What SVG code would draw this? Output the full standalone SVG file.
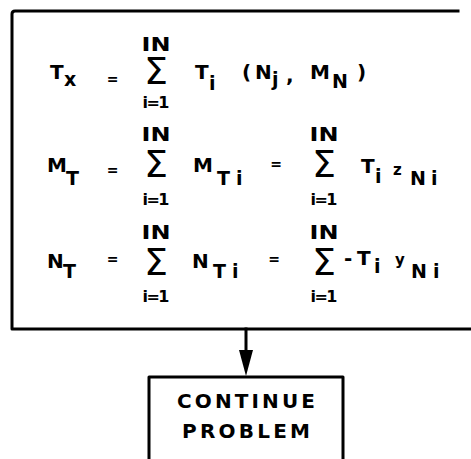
<svg xmlns="http://www.w3.org/2000/svg" width="471" height="459" viewBox="0 0 471 459">
<style>
  text { font-family: "DejaVu Sans", "Liberation Sans", sans-serif; font-weight: bold; fill: #000; }
  .m { font-size: 20px; }
  .s { font-size: 19px; }
  .sm { font-size: 15px; }
  .eq { font-size: 14px; text-anchor: middle; }
  .lim { font-size: 19px; text-anchor: middle; }
  .sig { font-size: 38px; font-weight: normal; text-anchor: middle; }
  .low { font-size: 16px; text-anchor: middle; }
  .lbl { font-size: 20px; text-anchor: middle; }
  .line { fill: none; stroke: #000; stroke-width: 3; stroke-linejoin: round; stroke-linecap: square; }
</style>

<g id="formula-box">
  <path class="line" d="M458,11 H15 Q12,11 12,14 V329 H471"/>
  <!-- row 1 -->
  <text class="m" x="50" y="79">T</text>
  <text class="s" x="64" y="86">x</text>
  <text class="eq" x="112.5" y="84">=</text>
  <text class="lim" x="156" y="51" textLength="29" lengthAdjust="spacingAndGlyphs">IN</text>
  <text class="sig" x="156" y="84">Σ</text>
  <text class="low" x="156" y="108" textLength="27">i=1</text>
  <text class="m" x="195" y="79">T</text>
  <text class="s" x="209" y="90">i</text>
  <text class="m" x="242" y="79">(</text>
  <text class="m" x="255" y="79">N</text>
  <text class="s" x="272" y="86">j</text>
  <text class="m" x="286" y="82">,</text>
  <text class="m" x="310" y="79">M</text>
  <text class="s" x="332" y="88">N</text>
  <text class="m" x="357" y="79">)</text>
  <!-- row 2 -->
  <text class="m" x="47" y="172">M</text>
  <text class="s" x="66" y="185">T</text>
  <text class="eq" x="112.5" y="175">=</text>
  <text class="lim" x="156" y="141" textLength="29" lengthAdjust="spacingAndGlyphs">IN</text>
  <text class="sig" x="156" y="177">Σ</text>
  <text class="low" x="156" y="205" textLength="27">i=1</text>
  <text class="m" x="193" y="172">M</text>
  <text class="s" x="217" y="185">T</text>
  <text class="s" x="236" y="185">i</text>
  <text class="eq" x="276" y="169">=</text>
  <text class="lim" x="324" y="141" textLength="29" lengthAdjust="spacingAndGlyphs">IN</text>
  <text class="sig" x="324" y="177">Σ</text>
  <text class="low" x="324" y="205" textLength="27">i=1</text>
  <text class="m" x="361" y="173">T</text>
  <text class="s" x="375" y="183">i</text>
  <text class="sm" x="393" y="175">z</text>
  <text class="s" x="410" y="185">N</text>
  <text class="s" x="431" y="185">i</text>
  <!-- row 3 -->
  <text class="m" x="47" y="268">N</text>
  <text class="s" x="63" y="278">T</text>
  <text class="eq" x="112.5" y="264">=</text>
  <text class="lim" x="156" y="239" textLength="29" lengthAdjust="spacingAndGlyphs">IN</text>
  <text class="sig" x="156" y="275">Σ</text>
  <text class="low" x="156" y="302" textLength="27">i=1</text>
  <text class="m" x="192" y="268">N</text>
  <text class="s" x="213" y="278">T</text>
  <text class="s" x="232" y="278">i</text>
  <text class="eq" x="274" y="264">=</text>
  <text class="lim" x="324" y="239" textLength="29" lengthAdjust="spacingAndGlyphs">IN</text>
  <text class="sig" x="324" y="275">Σ</text>
  <text class="low" x="324" y="302" textLength="27">i=1</text>
  <text class="m" x="344" y="265">-</text>
  <text class="m" x="357" y="265">T</text>
  <text class="s" x="374" y="273">i</text>
  <text class="sm" x="395" y="265">y</text>
  <text class="s" x="411" y="278">N</text>
  <text class="s" x="433" y="278">i</text>
</g>

<g id="connectors">
  <path class="line" d="M246,329 V352" />
  <path d="M239,350 L253,350 L246,376 Z" fill="#000"/>
</g>

<g id="continue-problem">
  <path class="line" d="M149,462 V377 H343 V462"/>
  <text class="lbl" x="246" y="408" textLength="138" lengthAdjust="spacing">CONTINUE</text>
  <text class="lbl" x="246" y="438" textLength="128" lengthAdjust="spacing">PROBLEM</text>
</g>
</svg>
